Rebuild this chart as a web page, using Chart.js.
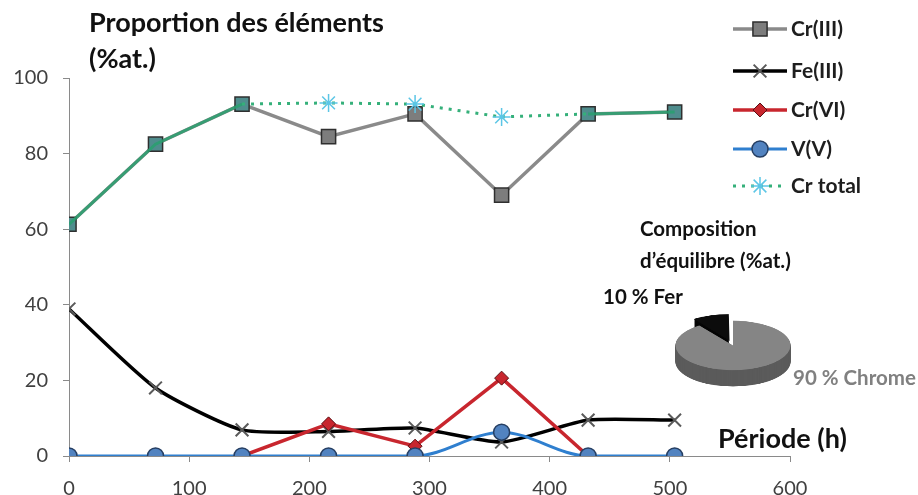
<!DOCTYPE html>
<html>
<head>
<meta charset="utf-8">
<script src="https://cdn.jsdelivr.net/npm/chart.js@4.4.1/dist/chart.umd.min.js"></script>
<style>
    html, body { margin: 0; padding: 0; background: #fff; }
    #wrap { position: relative; width: 918px; height: 495px; overflow: hidden; font-family: Lato, "Open Sans", sans-serif; }
    #main { position: absolute; left: 0; top: 0; }
    #pie { position: absolute; left: 653px; top: 311px; transform: scaleY(0.43); transform-origin: 0 0; }
    .lbl { position: absolute; font-weight: bold; white-space: nowrap; color: #111; }
</style>
</head>
<body>
<div id="wrap">
    <canvas id="main" width="918" height="495"></canvas>
    <canvas id="pie" width="160" height="200"></canvas>
    <div class="lbl" style="left:89px; top:4px; font-size:27px; line-height:36px;">Proportion des éléments<br>(%at.)</div>
    <div class="lbl" style="left:718px; top:422px; font-size:27px; line-height:32px;">Période (h)</div>
    <div class="lbl" style="left:640px; top:212px; font-size:20.5px; line-height:32px;">Composition<br>d’équilibre (%at.)</div>
    <div class="lbl" style="left:603px; top:283px; font-size:20.5px; line-height:26px;">10 % Fer</div>
    <div class="lbl" style="left:793px; top:364px; font-size:20.5px; line-height:26px; color:#808080;">90 % Chrome</div>
</div>
<script>
// Période (h)
const hours = [0, 72, 144, 216, 288, 360, 432, 504];

// Proportion des éléments (%at.)
const crIII = [61.3, 82.5, 93.1, 84.5, 90.5, 69.0, 90.5, 91.0];
const feIII = [38.9, 18.0, 6.9, 6.5, 7.4, 3.7, 9.5, 9.5];
const crVI = [null, null, 0, 8.5, 2.6, 20.6, 0, null];
const vV = [0, 0, 0, 0, 0, 6.3, 0, 0];
const crTotal = [61.3, 82.5, 93.1, 93.4, 93.1, 89.7, 90.5, 91.0];

const xTicks = [0, 100, 200, 300, 400, 500, 600];
const yTicks = [0, 20, 40, 60, 80, 100];

// Composition d'équilibre (%at.)
const pieLabels = ['Chrome', 'Fer'];
const pieValues = [90, 10];

const toPoints = arr => hours.map((h, i) => ({ x: h, y: arr[i] }));
const sameAsCrIII = i => crTotal[i] === crIII[i];

const datasets = [{
    label: 'Cr(III)',
    data: toPoints(crIII),
    borderColor: '#8a8a8a',
    borderWidth: 3.5,
    pointStyle: 'rect',
    pointRadius: 10,
    pointBackgroundColor: crIII.map((v, i) => sameAsCrIII(i) ? '#4f8d8d' : '#7d7d7d'),
    pointBorderColor: '#2f2f2f',
    pointBorderWidth: 1.5,
    order: 4
}, {
    label: 'Fe(III)',
    data: toPoints(feIII),
    borderColor: '#000000',
    borderWidth: 3.5,
    tension: 0.2,
    pointStyle: 'crossRot',
    pointRadius: 9,
    pointBorderColor: '#5a5a5a',
    pointBorderWidth: 2,
    order: 3
}, {
    label: 'Cr(VI)',
    data: toPoints(crVI),
    borderColor: '#c8262e',
    borderWidth: 3.5,
    pointStyle: 'rectRot',
    pointRadius: 7,
    pointBackgroundColor: '#c8262e',
    pointBorderColor: '#5a1014',
    pointBorderWidth: 1,
    order: 2
}, {
    label: 'V(V)',
    data: toPoints(vV),
    borderColor: '#2f7fcf',
    borderWidth: 3,
    cubicInterpolationMode: 'monotone',
    pointStyle: 'circle',
    pointRadius: 8,
    pointBackgroundColor: '#5283c0',
    pointBorderColor: '#263f63',
    pointBorderWidth: 1.5,
    order: 1
}, {
    label: 'Cr total',
    data: toPoints(crTotal),
    borderColor: '#35b07a',
    borderWidth: 3,
    borderDash: [3, 6],
    segment: {
        borderDash: c => (sameAsCrIII(c.p0DataIndex) && sameAsCrIII(c.p1DataIndex)) ? [] : [3, 6],
        borderColor: c => (sameAsCrIII(c.p0DataIndex) && sameAsCrIII(c.p1DataIndex)) ? 'rgba(40,160,110,0.85)' : '#35b07a'
    },
    pointStyle: 'star',
    pointRadius: crTotal.map((v, i) => sameAsCrIII(i) ? 0 : 9),
    pointBorderColor: '#5cc6e6',
    pointBorderWidth: 1.5,
    order: 0
}];

// legend drawn at the top right, as in the original
const legendRows = [29, 71, 110, 149, 186];
const legendPlugin = {
    id: 'sideLegend',
    afterDraw(chart) {
        const ctx = chart.ctx;
        datasets.forEach((ds, i) => {
            const y = legendRows[i];
            ctx.save();
            ctx.strokeStyle = ds.label === 'Cr total' ? '#35b07a' : ds.borderColor;
            ctx.lineWidth = ds.borderWidth;
            ctx.setLineDash(ds.label === 'Cr total' ? [3, 6] : []);
            ctx.beginPath();
            ctx.moveTo(733, y);
            ctx.lineTo(787, y);
            ctx.stroke();
            ctx.setLineDash([]);
            const fill = Array.isArray(ds.pointBackgroundColor) ? '#7d7d7d' : (ds.pointBackgroundColor || 'transparent');
            ctx.fillStyle = fill;
            ctx.strokeStyle = ds.pointBorderColor;
            ctx.lineWidth = ds.pointBorderWidth;
            Chart.helpers.drawPoint(ctx, {
                pointStyle: ds.pointStyle,
                radius: ds.label === 'Cr total' ? 9 : ds.pointRadius,
                rotation: 0,
                borderWidth: ds.pointBorderWidth
            }, 760, y);
            ctx.fillStyle = '#1e1e1e';
            ctx.font = 'bold 21px Lato, "Open Sans", sans-serif';
            ctx.textBaseline = 'middle';
            ctx.fillText(ds.label, 791, y);
            ctx.restore();
        });
    }
};

new Chart(document.getElementById('main'), {
    type: 'line',
    data: { datasets },
    options: {
        responsive: false,
        animation: false,
        layout: { padding: { top: 78, right: 128, left: 0, bottom: 0 } },
        plugins: { legend: { display: false }, tooltip: { enabled: false } },
        scales: {
            x: {
                type: 'linear',
                min: 0,
                max: 600,
                afterBuildTicks: s => { s.ticks = xTicks.map(v => ({ value: v })); },
                afterFit: s => { s.height = 39; },
                grid: { drawOnChartArea: false, drawTicks: true, tickLength: 6, color: '#8a8a8a' },
                border: { display: true, color: '#8a8a8a', width: 1 },
                ticks: { padding: 15, color: '#404040', font: { family: 'Lato', size: 20 }, maxRotation: 0 }
            },
            y: {
                min: 0,
                max: 100,
                afterBuildTicks: s => { s.ticks = yTicks.map(v => ({ value: v })); },
                afterFit: s => { s.width = 69; },
                grid: { drawOnChartArea: false, drawTicks: true, tickLength: 6, color: '#8a8a8a' },
                border: { display: true, color: '#8a8a8a', width: 1 },
                ticks: { padding: 15, color: '#404040', font: { family: 'Lato', size: 20 } }
            }
        }
    },
    plugins: [legendPlugin]
});

// 3D-looking pie: canvas squashed with CSS, side drawn under the arcs
const PIE_DEPTH = 38;
const pieSides = ['#5b5b5b', '#050505'];
const extrudePlugin = {
    id: 'extrude',
    beforeDatasetsDraw(chart) {
        const ctx = chart.ctx;
        const meta = chart.getDatasetMeta(0);
        meta.data.forEach((el, i) => {
            const off = (el.options.offset || 0) / 4;
            const circ = el.endAngle - el.startAngle;
            const d = off * (1 + (1 - Math.sin(Math.min(Math.PI, circ))));
            const mid = (el.startAngle + el.endAngle) / 2;
            const cx = el.x + Math.cos(mid) * d;
            const cy = el.y + Math.sin(mid) * d;
            ctx.save();
            ctx.fillStyle = pieSides[i];
            for (let dy = PIE_DEPTH; dy > 0; dy -= 1) {
                ctx.beginPath();
                ctx.moveTo(cx, cy + dy);
                ctx.arc(cx, cy + dy, el.outerRadius, el.startAngle, el.endAngle);
                ctx.closePath();
                ctx.fill();
            }
            ctx.restore();
        });
    }
};

new Chart(document.getElementById('pie'), {
    type: 'pie',
    data: {
        labels: pieLabels,
        datasets: [{
            data: pieValues,
            backgroundColor: ['#858585', '#0c0c0c'],
            borderWidth: 0,
            offset: [0, 45]
        }]
    },
    options: {
        responsive: false,
        animation: false,
        layout: { padding: { bottom: 40 } },
        plugins: { legend: { display: false }, tooltip: { enabled: false } }
    },
    plugins: [extrudePlugin]
});
</script>
</body>
</html>
